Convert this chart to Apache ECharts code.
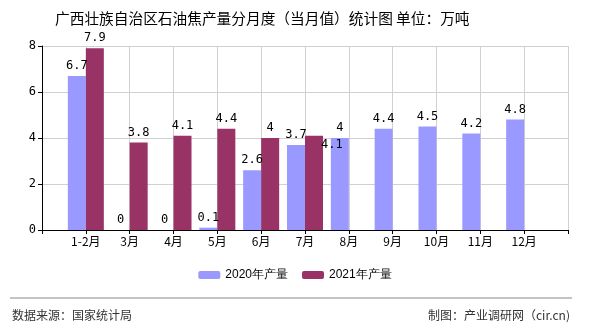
<!DOCTYPE html>
<html><head><meta charset="utf-8">
<script src="https://cdn.jsdelivr.net/npm/echarts@6/dist/echarts.min.js"></script>
<style>html,body{margin:0;padding:0;background:#fff}#c{width:590px;height:330px}</style>
</head><body><div id="c"></div>
<script>
var categories = ['', '1-2月', '3月', '4月', '5月', '6月', '7月', '8月', '9月', '10月', '11月', '12月', ''];
var s2020 = [null, 6.7, 0, 0, 0.1, 2.6, 3.7, 4, 4.4, 4.5, 4.2, 4.8, null];
var s2021 = [null, 7.9, 3.8, 4.1, 4.4, 4, 4.1, null, null, null, null, null, null];
var yTicks = [0, 2, 4, 6, 8];

var chart = echarts.init(document.getElementById('c'));
var labelFont = {show: true, position: 'top', color: '#000', fontSize: 12, fontFamily: 'DejaVu Sans Mono', distance: 4};
var d2021 = s2021.map(function (v, i) {
  if (i === 6) return {value: v, label: {position: [16, 3]}};
  return v;
});
chart.setOption({
  animation: false,
  title: {
    text: '广西壮族自治区石油焦产量分月度（当月值）统计图 单位：万吨',
    left: 50, top: 6,
    textStyle: {fontSize: 14.7, fontWeight: 'normal', color: '#000', fontFamily: 'Noto Sans CJK SC'}
  },
  grid: {left: 42, right: 22, top: 46, bottom: 100, containLabel: false},
  legend: {
    bottom: 44, left: 'center', itemWidth: 22, itemHeight: 8, itemGap: 14,
    textStyle: {fontSize: 12, color: '#000', fontFamily: 'Liberation Sans'},
    data: ['2020年产量', '2021年产量']
  },
  xAxis: {
    type: 'category', data: categories, boundaryGap: false,
    axisLine: {lineStyle: {color: '#000'}},
    axisTick: {show: true, length: 4, lineStyle: {color: '#000'}},
    axisLabel: {color: '#000', fontSize: 12, fontFamily: 'Noto Sans CJK SC', margin: 5, interval: 0},
    splitLine: {show: true, lineStyle: {color: '#d0d0d0'}}
  },
  yAxis: {
    type: 'value', min: yTicks[0], max: yTicks[yTicks.length - 1], interval: 2,
    axisLine: {show: true, lineStyle: {color: '#000'}},
    axisTick: {show: true, length: 4, lineStyle: {color: '#000'}},
    axisLabel: {color: '#000', fontSize: 12, fontFamily: 'DejaVu Sans Mono', margin: 6},
    splitLine: {show: true, lineStyle: {color: '#d0d0d0'}}
  },
  series: [
    {name: '2020年产量', type: 'bar', data: s2020, barWidth: 18, barGap: '0%',
     itemStyle: {color: '#9999FF'}, label: labelFont},
    {name: '2021年产量', type: 'bar', data: d2021, barWidth: 18, barGap: '0%',
     itemStyle: {color: '#993366'}, label: labelFont}
  ],
  graphic: [
    {type: 'line', shape: {x1: 10, y1: 298, x2: 572, y2: 298}, style: {stroke: '#888', lineWidth: 1}},
    {type: 'text', left: 12, top: 309, style: {text: '数据来源：国家统计局', fontSize: 12, fill: '#333', fontFamily: 'Noto Sans CJK SC'}},
    {type: 'text', right: 20, top: 309, style: {text: '制图：产业调研网（cir.cn)', fontSize: 12, fill: '#333', fontFamily: 'Noto Sans CJK SC'}}
  ]
});
</script></body></html>
